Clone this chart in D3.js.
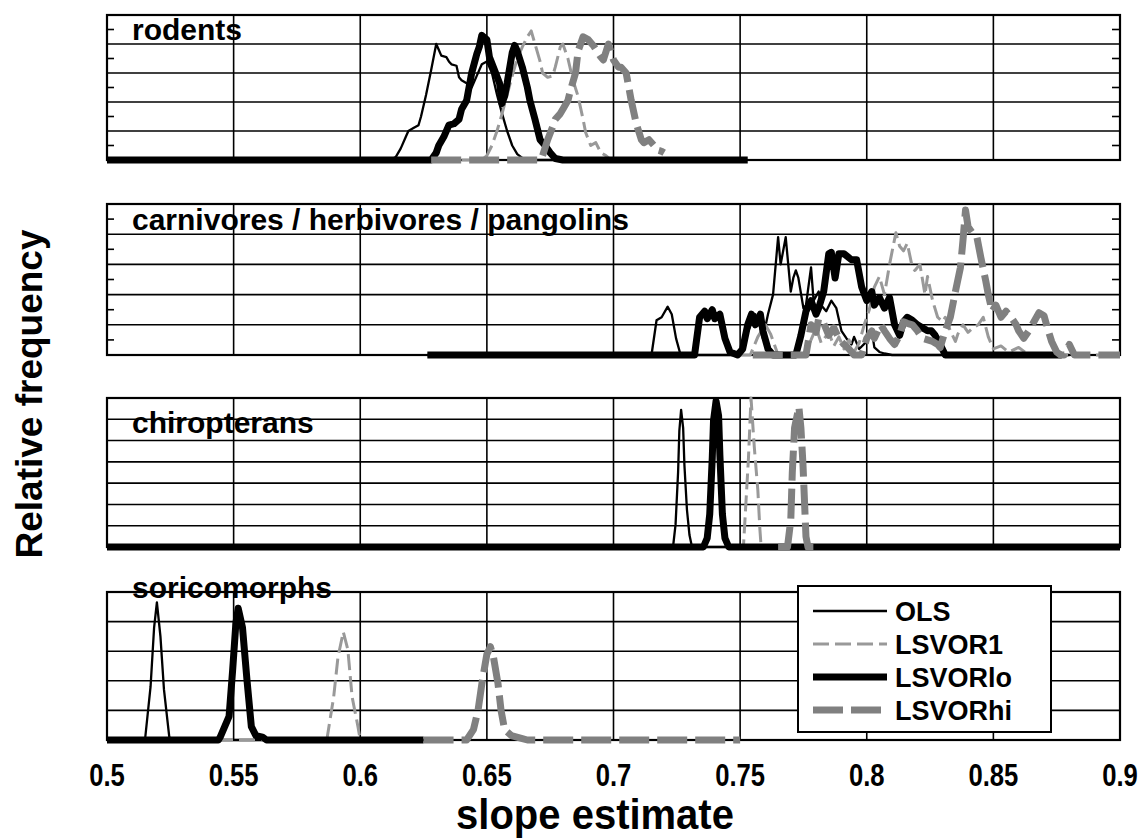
<!DOCTYPE html>
<html>
<head>
<meta charset="utf-8">
<script src="https://cdn.jsdelivr.net/npm/d3@7"></script>
<style>
  html, body { margin: 0; padding: 0; background: #fff; }
  svg text { font-family: "Liberation Sans", Arial, sans-serif; font-weight: bold; fill: #000; }
</style>
</head>
<body>
<svg id="chart" width="1142" height="840"></svg>
<script>
// ---- data ----------------------------------------------------------------
const panelNames = ["rodents", "carnivores / herbivores / pangolins", "chiropterans", "soricomorphs"];
const seriesNames = ["OLS", "LSVOR1", "LSVORlo", "LSVORhi"];
const xTickValues = [0.5, 0.55, 0.6, 0.65, 0.7, 0.75, 0.8, 0.85, 0.9];
const xTickLabels = ["0.5", "0.55", "0.6", "0.65", "0.7", "0.75", "0.8", "0.85", "0.9"];
const gridDivisions = [5, 5, 7, 5];

// relative frequency (percent of panel maximum) against slope estimate
const rodentsOLS = [[0.500,0],[0.612,0],[0.614,2],[0.616,8],[0.618,16],[0.619,20],[0.621,22],[0.623,24],[0.624,30],[0.626,45],[0.628,62],[0.630,80],[0.631,76],[0.632,72],[0.634,71],[0.635,68],[0.636,66],[0.638,65],[0.639,57],[0.640,55],[0.642,53],[0.644,50],[0.646,58],[0.648,66],[0.650,68],[0.652,60],[0.654,45],[0.656,32],[0.658,20],[0.660,10],[0.662,4],[0.665,0],[0.750,0]];
const rodentsLSVOR1 = [[0.640,0],[0.648,0],[0.650,3],[0.652,10],[0.654,20],[0.656,32],[0.658,45],[0.660,58],[0.662,70],[0.664,78],[0.666,85],[0.6675,89],[0.669,80],[0.671,68],[0.672,60],[0.674,57],[0.676,58],[0.677,64],[0.679,78],[0.680,80],[0.682,70],[0.684,55],[0.686,44],[0.688,28],[0.689,19],[0.691,10],[0.693,12],[0.695,5],[0.697,3],[0.699,0]];
const rodentsLSVORlo = [[0.500,0],[0.628,0],[0.630,5],[0.631,10],[0.633,16],[0.635,24],[0.637,25],[0.639,28],[0.640,35],[0.642,41],[0.644,60],[0.646,73],[0.647,78],[0.648,86],[0.650,83],[0.651,71],[0.653,62],[0.655,53],[0.656,39],[0.657,44],[0.658,53],[0.660,74],[0.661,79],[0.662,75],[0.664,64],[0.666,50],[0.667,41],[0.669,28],[0.671,14],[0.673,10],[0.675,5],[0.677,1],[0.680,0],[0.753,0]];
const rodentsLSVORhi = [[0.628,0],[0.671,0],[0.672,3],[0.674,14],[0.676,23],[0.677,28],[0.679,32],[0.680,35],[0.682,41],[0.683,48],[0.685,60],[0.686,75],[0.688,85],[0.690,83],[0.692,79],[0.695,71],[0.696,69],[0.698,80],[0.700,69],[0.702,64],[0.703,64],[0.705,60],[0.707,41],[0.709,25],[0.711,14],[0.712,12],[0.714,14],[0.716,10],[0.717,7],[0.719,6],[0.720,5]];

const carnivoresOLS = [[0.6265,0],[0.715,0],[0.717,23],[0.719,25],[0.7214,32],[0.723,27],[0.7247,11],[0.7265,0],[0.750,0],[0.752,8],[0.753,15],[0.756,27],[0.758,18],[0.759,11],[0.761,27],[0.763,40],[0.765,78],[0.766,60],[0.768,78],[0.770,42],[0.771,51],[0.772,56],[0.773,51],[0.775,31],[0.776,33],[0.778,58],[0.779,36],[0.781,42],[0.782,33],[0.784,29],[0.786,36],[0.788,31],[0.790,16],[0.792,11],[0.794,7],[0.795,12],[0.797,4],[0.800,9],[0.802,16],[0.803,5],[0.805,2],[0.807,1],[0.810,0],[0.880,0]];
const carnivoresLSVOR1 = [[0.750,0],[0.754,0],[0.757,12],[0.760,20],[0.762,14],[0.765,0],[0.775,0],[0.778,10],[0.780,18],[0.782,8],[0.785,15],[0.787,6],[0.789,12],[0.791,4],[0.793,10],[0.795,2],[0.797,8],[0.799,20],[0.801,30],[0.803,45],[0.805,52],[0.807,40],[0.809,60],[0.8115,81],[0.813,72],[0.8145,69],[0.816,74],[0.818,58],[0.819,56],[0.821,60],[0.823,40],[0.824,52],[0.826,36],[0.828,25],[0.830,22],[0.831,25],[0.833,16],[0.835,9],[0.836,14],[0.838,20],[0.840,15],[0.842,18],[0.844,20],[0.846,25],[0.848,12],[0.850,4],[0.853,6],[0.856,2],[0.860,5],[0.864,0],[0.900,0]];
const carnivoresLSVORlo = [[0.6265,0],[0.732,0],[0.734,25],[0.736,29],[0.737,24],[0.739,30],[0.740,24],[0.742,27],[0.744,11],[0.746,2],[0.749,0],[0.751,4],[0.753,20],[0.7545,27],[0.756,20],[0.758,27],[0.759,16],[0.761,4],[0.763,0],[0.772,0],[0.774,13],[0.776,29],[0.778,36],[0.780,27],[0.781,31],[0.783,42],[0.785,67],[0.786,68],[0.7875,51],[0.789,67],[0.791,67],[0.7925,65],[0.794,63],[0.796,63],[0.798,45],[0.800,36],[0.802,42],[0.803,33],[0.805,38],[0.807,31],[0.809,38],[0.811,20],[0.813,13],[0.8145,22],[0.816,25],[0.818,23],[0.820,20],[0.822,18],[0.824,16],[0.8255,16],[0.827,13],[0.829,7],[0.831,0],[0.877,0]];
const carnivoresLSVORhi = [[0.755,0],[0.776,0],[0.778,20],[0.780,15],[0.781,24],[0.783,21],[0.785,13],[0.787,18],[0.789,11],[0.791,7],[0.793,4],[0.795,0],[0.798,0],[0.800,11],[0.802,16],[0.803,11],[0.8055,20],[0.807,16],[0.809,11],[0.811,7],[0.813,13],[0.8145,22],[0.816,21],[0.818,20],[0.820,16],[0.822,11],[0.826,9],[0.828,7],[0.829,5],[0.831,16],[0.833,25],[0.835,42],[0.837,58],[0.838,76],[0.839,96],[0.840,85],[0.842,80],[0.8435,78],[0.845,65],[0.847,49],[0.848,40],[0.8495,29],[0.851,33],[0.853,25],[0.855,29],[0.857,25],[0.859,20],[0.860,16],[0.862,11],[0.864,16],[0.866,22],[0.868,28],[0.870,26],[0.8715,17],[0.873,9],[0.875,2],[0.8765,0],[0.878,0],[0.880,7],[0.882,0],[0.900,0]];

const chiropteransOLS = [[0.500,0],[0.7235,0],[0.7245,15],[0.7255,50],[0.726,78],[0.7267,92],[0.7275,80],[0.728,55],[0.729,25],[0.730,8],[0.731,0],[0.900,0]];
const chiropteransLSVOR1 = [[0.748,0],[0.7513,0],[0.7533,60],[0.7543,100],[0.7556,67],[0.757,38],[0.7578,12],[0.7583,0],[0.762,0]];
const chiropteransLSVORlo = [[0.500,0],[0.7355,0],[0.737,6],[0.738,22],[0.739,60],[0.7395,85],[0.7405,98],[0.7415,88],[0.742,62],[0.743,22],[0.744,6],[0.7455,0],[0.900,0]];
const chiropteransLSVORhi = [[0.765,0],[0.7687,0],[0.770,18],[0.7706,50],[0.7715,80],[0.7732,94],[0.7740,80],[0.7748,56],[0.776,7],[0.7768,0],[0.780,0]];

const soricomorphsOLS = [[0.500,0],[0.5150,0],[0.5172,36],[0.5186,76],[0.5197,93],[0.5211,70],[0.5225,34],[0.5246,2],[0.5260,0],[0.625,0]];
const soricomorphsLSVOR1 = [[0.500,0],[0.5868,0],[0.5895,29],[0.5912,56],[0.5933,73],[0.5951,61],[0.5968,29],[0.5991,9],[0.6000,0],[0.620,0]];
const soricomorphsLSVORlo = [[0.500,0],[0.5440,0],[0.5447,2],[0.5482,16],[0.5496,47],[0.5509,79],[0.5518,89],[0.5535,76],[0.5553,40],[0.5570,9],[0.5588,3],[0.5614,2],[0.5630,0],[0.625,0]];
const soricomorphsLSVORhi = [[0.625,0],[0.642,0],[0.6447,7],[0.6465,20],[0.6482,40],[0.6500,58],[0.6514,63],[0.6526,56],[0.6544,38],[0.6556,20],[0.6570,7],[0.6597,3],[0.6640,1],[0.6660,0],[0.750,0]];

const panelSeries = [
  [rodentsOLS, rodentsLSVOR1, rodentsLSVORlo, rodentsLSVORhi],
  [carnivoresOLS, carnivoresLSVOR1, carnivoresLSVORlo, carnivoresLSVORhi],
  [chiropteransOLS, chiropteransLSVOR1, chiropteransLSVORlo, chiropteransLSVORhi],
  [soricomorphsOLS, soricomorphsLSVOR1, soricomorphsLSVORlo, soricomorphsLSVORhi]
];

// ---- styling / layout --------------------------------------------------------
const seriesStyle = {
  OLS:     { color: "#000000", width: 2.3, dash: null },
  LSVOR1:  { color: "#999999", width: 3,   dash: "16,6" },
  LSVORlo: { color: "#000000", width: 7,   dash: null },
  LSVORhi: { color: "#808080", width: 7,   dash: "30,8" }
};
const panelBoxes = [
  { top: 15,  bottom: 160, minorTicks: true },
  { top: 204, bottom: 355, minorTicks: true },
  { top: 398, bottom: 547, minorTicks: false },
  { top: 592, bottom: 740, minorTicks: false }
];
const titleBaselines = [40, 230, 433, 598];
const plotLeft = 107, plotRight = 1120;

const svg = d3.select("#chart");
const x = d3.scaleLinear().domain([0.5, 0.9]).range([plotLeft, plotRight]);

panelBoxes.forEach((box, i) => {
  const g = svg.append("g").attr("class", "panel");
  const y = d3.scaleLinear().domain([0, 100]).range([box.bottom, box.top]);
  const div = gridDivisions[i];

  // panel name sits underneath the grid
  g.append("text")
    .attr("x", 132).attr("y", titleBaselines[i])
    .attr("font-size", 30)
    .text(panelNames[i]);

  // horizontal grid
  const hVals = d3.range(1, div).map(k => k * 100 / div);
  g.append("g").selectAll("line").data(hVals).join("line")
    .attr("x1", plotLeft).attr("x2", plotRight)
    .attr("y1", d => y(d)).attr("y2", d => y(d))
    .attr("stroke", "#000").attr("stroke-width", 1.6);

  // vertical grid
  g.append("g").selectAll("line").data(xTickValues.slice(1, -1)).join("line")
    .attr("x1", d => x(d)).attr("x2", d => x(d))
    .attr("y1", box.top).attr("y2", box.bottom)
    .attr("stroke", "#000").attr("stroke-width", 1.6);

  // minor ticks on both sides
  if (box.minorTicks) {
    const mVals = d3.range(0, div).map(k => (k + 0.5) * 100 / div);
    g.append("g").selectAll("line").data(mVals).join("line")
      .attr("x1", plotLeft).attr("x2", plotLeft + 7)
      .attr("y1", d => y(d)).attr("y2", d => y(d))
      .attr("stroke", "#000").attr("stroke-width", 1.6);
    g.append("g").selectAll("line").data(mVals).join("line")
      .attr("x1", plotRight - 8).attr("x2", plotRight)
      .attr("y1", d => y(d)).attr("y2", d => y(d))
      .attr("stroke", "#000").attr("stroke-width", 1.6);
  }

  // frame
  g.append("rect")
    .attr("x", plotLeft).attr("y", box.top)
    .attr("width", plotRight - plotLeft).attr("height", box.bottom - box.top)
    .attr("fill", "none").attr("stroke", "#000").attr("stroke-width", 2.2);

  // series: drawn in legend order
  const line = d3.line().x(d => x(d[0])).y(d => y(d[1]));
  panelSeries[i].forEach((data, s) => {
    const st = seriesStyle[seriesNames[s]];
    g.append("path")
      .datum(data)
      .attr("d", line)
      .attr("fill", "none")
      .attr("stroke", st.color)
      .attr("stroke-width", st.width)
      .attr("stroke-linejoin", "round")
      .attr("stroke-dasharray", st.dash);
  });
});

// x axis labels under the last panel (slightly tall, narrow lettering)
svg.append("g").selectAll("text").data(xTickValues).join("text")
  .attr("transform", d => `translate(${x(d)},786) scale(0.95,1.15)`)
  .attr("text-anchor", "middle")
  .attr("font-size", 27)
  .text((d, i) => xTickLabels[i]);

svg.append("text")
  .attr("transform", "translate(595,829) scale(1,1.08)")
  .attr("text-anchor", "middle")
  .attr("font-size", 40)
  .text("slope estimate");

svg.append("text")
  .attr("transform", "translate(42,394) rotate(-90)")
  .attr("text-anchor", "middle")
  .attr("font-size", 37)
  .text("Relative frequency");

// legend
const legend = svg.append("g").attr("class", "legend");
legend.append("rect")
  .attr("x", 798).attr("y", 586).attr("width", 253).attr("height", 146)
  .attr("fill", "#fff").attr("stroke", "#000").attr("stroke-width", 2);
const legendY = d3.scalePoint().domain(seriesNames).range([611, 710]);
seriesNames.forEach(name => {
  const st = seriesStyle[name];
  legend.append("line")
    .attr("x1", 813).attr("x2", 887)
    .attr("y1", legendY(name)).attr("y2", legendY(name))
    .attr("stroke", st.color).attr("stroke-width", st.width)
    .attr("stroke-dasharray", st.dash);
  legend.append("text")
    .attr("x", 895).attr("y", legendY(name) + 10)
    .attr("font-size", 27)
    .text(name);
});
</script>
</body>
</html>
